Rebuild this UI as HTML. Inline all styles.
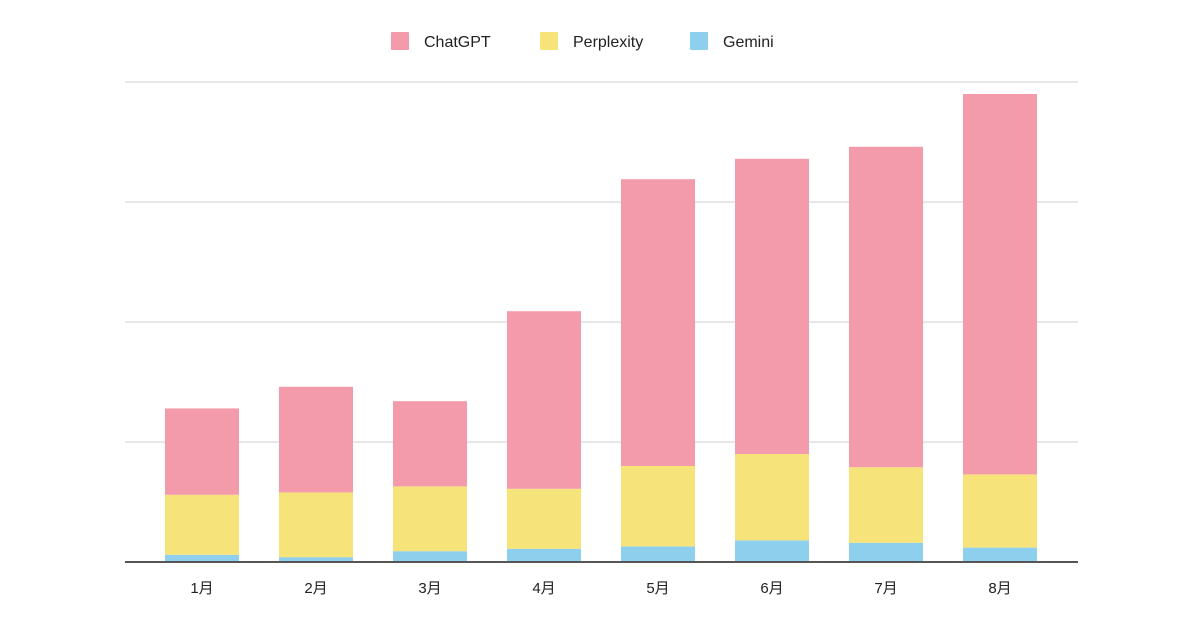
<!DOCTYPE html>
<html><head><meta charset="utf-8"><style>
html,body{margin:0;padding:0;background:#fff;}
svg{display:block;font-family:"Liberation Sans","Noto Sans CJK JP",sans-serif;}
</style></head><body>
<svg id="chart" width="1200" height="630" viewBox="0 0 1200 630"></svg>
<script>
const categories = ["1月","2月","3月","4月","5月","6月","7月","8月"];
const gemini = [6,4,9,11,13,18,16,12];
const perplexity = [50,54,54,50,67,72,63,61];
const chatgpt = [72,88,71,148,239,246,267,317];
const gridValues = [100,200,300,400];

const NS = "http://www.w3.org/2000/svg";
const svg = document.getElementById("chart");
const x0 = 125, x1 = 1078, baseY = 562, pxPer = 1.2;
const step = 114, firstCenter = 202, barW = 74;
const yScale = v => baseY - v * pxPer;
const xCenter = i => firstCenter + i * step;
function mk(tag, attrs){const e=document.createElementNS(NS,tag);for(const k in attrs)e.setAttribute(k,attrs[k]);svg.appendChild(e);return e;}

gridValues.forEach(v=>{
  const l = mk("line",{x1:x0,x2:x1,y1:yScale(v),y2:yScale(v),stroke:"#cfcfcf","stroke-width":1});
  
  
});

const series = [
  {name:"gemini", data:gemini, color:"#8fcfee"},
  {name:"perplexity", data:perplexity, color:"#f6e47a"},
  {name:"chatgpt", data:chatgpt, color:"#f49bab"}
];
categories.forEach((c,i)=>{
  let acc = 0;
  series.forEach(s=>{
    const v = s.data[i];
    const r = mk("rect",{x:xCenter(i)-barW/2,y:yScale(acc+v),width:barW,height:v*pxPer,fill:s.color});
    
    
    acc += v;
  });
  const t = mk("text",{x:xCenter(i),y:593,"text-anchor":"middle","font-size":15,fill:"#222"});
  t.textContent = c;
  
  
});

const base = mk("line",{x1:x0,x2:x1,y1:baseY,y2:baseY,stroke:"#555","stroke-width":2});



const legend = [["ChatGPT","#f49bab",391],["Perplexity","#f6e47a",540],["Gemini","#8fcfee",690]];
legend.forEach(([n,col,x])=>{
  const r = mk("rect",{x:x,y:32,width:18,height:18,fill:col,rx:1});
  
  
  const t = mk("text",{x:x+33,y:47,"font-size":16,fill:"#222"});
  t.textContent = n;
  
  
});
</script>
</body></html>
